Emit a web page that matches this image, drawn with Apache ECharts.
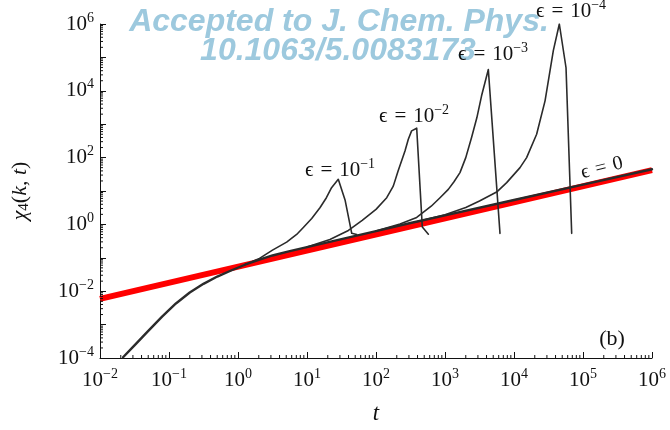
<!DOCTYPE html>
<html>
<head>
<meta charset="utf-8">
<script src="https://cdn.jsdelivr.net/npm/echarts@6/dist/echarts.min.js"></script>
<style>html,body{margin:0;padding:0;background:#fff}#c{width:670px;height:430px}</style>
</head>
<body>
<div id="c"></div>
<script>
// ---- data ----
const redT   = [0.01, 1e6];
const redChi = [0.0059, 42];

const baseT   = [0.0216, 0.0316, 0.0501, 0.0794, 0.126, 0.2, 0.316, 0.501, 0.794, 1.26, 2.0, 3.16, 5.62, 10, 31.6, 100, 316, 1000, 1e4, 1e5, 1e6];
const baseChi = [1.05e-4, 2.4e-4, 6.5e-4, 1.74e-3, 4.3e-3, 9.1e-3, 0.0166, 0.0275, 0.0417, 0.062, 0.087, 0.1175, 0.158, 0.209, 0.363, 0.631, 1.10, 1.86, 5.37, 15.5, 44.7];

const e1T   = [1.26, 2.0, 3.16, 5.07, 7.08, 8.85, 11.7, 15.4, 19.1, 22.7, 28.4, 35.6, 44.5, 52.5];
const e1Chi = [0.062, 0.093, 0.17, 0.295, 0.50, 0.81, 1.51, 3.16, 6.3, 12.6, 22.4, 5.4, 0.54, 0.50];

const e2T   = [10, 21.5, 39.8, 63.1, 100, 143, 178, 209, 263, 294, 328, 389, 469, 574];
const e2Chi = [0.209, 0.355, 0.66, 1.32, 2.82, 6.3, 14, 40, 158, 355, 630, 760, 0.83, 0.51];

const e3T   = [100, 223, 389, 631, 847, 1117, 1350, 1648, 2000, 2427, 2900, 3388, 4246, 6266];
const e3Chi = [0.631, 1.02, 1.62, 3.5, 6.3, 11.2, 19, 35.5, 100, 400, 1580, 7080, 43600, 0.54];

const e4T   = [400, 1000, 2000, 3162, 5598, 7834, 12220, 15240, 21280, 28180, 37150, 45390, 56750, 68550];
const e4Chi = [1.22, 1.95, 3.2, 5.0, 9.3, 17.8, 50, 100, 500, 5000, 1.6e5, 1.0e6, 4.9e4, 0.54];

const xTickExps = [-2, -1, 0, 1, 2, 3, 4, 5, 6];
const yLabelExps = [-4, -2, 0, 2, 4, 6];

// minor tick positions (2..9 per decade)
const minorX = [];
for (let d = -2; d < 6; d++) for (let m = 2; m <= 9; m++) minorX.push([m * Math.pow(10, d)]);
const minorY = [];
for (let d = -4; d < 6; d++) for (let m = 2; m <= 9; m++) minorY.push([m * Math.pow(10, d)]);

function zip(a, b) { return a.map((v, i) => [v, b[i]]); }

const serif = '"Liberation Serif", "DejaVu Serif", serif';
const sup = n => String(n).replace('-', '\u2212');

function fmtExp(v, allowed) {
  const e = Math.round(Math.log10(v));
  if (allowed && allowed.indexOf(e) < 0) return '';
  return '{b|10}{e|' + sup(e) + '}';
}

const richLab = {
  b: { fontFamily: serif, fontSize: 21, color: '#111' },
  e: { fontFamily: serif, fontSize: 14, color: '#111', padding: [0, 0, 12, 0] }
};

const epsRich = {
  a: { fontFamily: serif, fontSize: 21, fill: '#111' },
  e: { fontFamily: serif, fontSize: 14, fill: '#111', padding: [0, 0, 11, 0] }
};
const epsText = n => '{a|\u03f5\u2004=\u200410}{e|\u2212' + n + '}';

const chart = echarts.init(document.getElementById('c'));
const lineColor = '#2b2b2b';

function curve(t, c, w) {
  return { type: 'line', data: zip(t, c), showSymbol: false, smooth: false,
           lineStyle: { color: lineColor, width: w, join: 'round', cap: 'round' }, z: 3 };
}

chart.setOption({
  animation: false,
  backgroundColor: '#fff',
  grid: { left: 100, right: 18, top: 24, bottom: 56, containLabel: false },
  xAxis: {
    type: 'log', logBase: 10, min: 0.01, max: 1e6, splitNumber: 8,
    axisLine: { lineStyle: { color: '#111', width: 1 } },
    axisTick: { inside: true, length: 6, lineStyle: { color: '#111' } },
    splitLine: { show: false },
    axisLabel: { margin: 9, formatter: v => fmtExp(v, xTickExps), rich: richLab },
    name: 't', nameLocation: 'middle', nameGap: 44,
    nameTextStyle: { fontFamily: serif, fontStyle: 'italic', fontSize: 23, color: '#111' }
  },
  yAxis: {
    type: 'log', logBase: 10, min: 1e-4, max: 1e6, splitNumber: 10,
    axisLine: { show: true, lineStyle: { color: '#111', width: 1 } },
    axisTick: { show: true, inside: true, length: 6, lineStyle: { color: '#111' } },
    splitLine: { show: false },
    axisLabel: { margin: 6, formatter: v => fmtExp(v, yLabelExps), rich: richLab },
    name: '{i|\u03c7}{s|4}{n|(}{i|k}{n|, }{i|t}{n|)}',
    nameLocation: 'middle', nameGap: 68, nameRotate: 90,
    nameTextStyle: {
      rich: {
        i: { fontFamily: serif, fontStyle: 'italic', fontSize: 22, color: '#111' },
        n: { fontFamily: serif, fontSize: 22, color: '#111' },
        s: { fontFamily: serif, fontSize: 15, color: '#111', padding: [8, 0, 0, 0] }
      }
    }
  },
  series: [
    { type: 'line', data: zip(redT, redChi), showSymbol: false, lineStyle: { color: '#ff0000', width: 6 }, z: 2 },
    curve(baseT, baseChi, 2.4),
    curve(e1T, e1Chi, 1.6),
    curve(e2T, e2Chi, 1.6),
    curve(e3T, e3Chi, 1.6),
    curve(e4T, e4Chi, 1.6),
    {
      type: 'custom', data: minorX, clip: false, silent: true, z: 5,
      renderItem: (params, api) => {
        const p = api.coord([api.value(0), 1e-4]);
        return { type: 'line', shape: { x1: p[0], y1: p[1], x2: p[0], y2: p[1] - 3 }, style: { stroke: '#111', lineWidth: 1 } };
      }
    },
    {
      type: 'custom', data: minorY.map(v => [0.01, v[0]]), clip: false, silent: true, z: 5,
      renderItem: (params, api) => {
        const p = api.coord([0.01, api.value(1)]);
        return { type: 'line', shape: { x1: p[0], y1: p[1], x2: p[0] + 3, y2: p[1] }, style: { stroke: '#111', lineWidth: 1 } };
      }
    }
  ],
  graphic: [
    { type: 'text', z: 10, position: [339, 22],
      style: { text: 'Accepted to J. Chem. Phys.', x: 0, y: 0, align: 'center', verticalAlign: 'middle',
        font: 'italic bold 32px "Liberation Sans", Arial, sans-serif', fill: '#9dc9de' } },
    { type: 'text', z: 10, position: [338, 51],
      style: { text: '10.1063/5.0083173', x: 0, y: 0, align: 'center', verticalAlign: 'middle',
        font: 'italic bold 32px "Liberation Sans", Arial, sans-serif', fill: '#9dc9de' } },
    { type: 'text', z: 20, position: [340, 170],
      style: { text: epsText(1), align: 'center', verticalAlign: 'middle', rich: epsRich } },
    { type: 'text', z: 20, position: [414, 116],
      style: { text: epsText(2), align: 'center', verticalAlign: 'middle', rich: epsRich } },
    { type: 'text', z: 20, position: [493, 54],
      style: { text: epsText(3), align: 'center', verticalAlign: 'middle', rich: epsRich } },
    { type: 'text', z: 20, position: [571, 11],
      style: { text: epsText(4), align: 'center', verticalAlign: 'middle', rich: epsRich } },
    { type: 'text', z: 20, position: [602, 168], rotation: 14 * Math.PI / 180,
      style: { text: '\u03f5\u2004=\u20040', align: 'center', verticalAlign: 'middle', font: '20px ' + serif, fill: '#111' } },
    { type: 'text', z: 20, position: [612, 339],
      style: { text: '(b)', align: 'center', verticalAlign: 'middle', font: '22px ' + serif, fill: '#111' } }
  ]
});
</script>
</body>
</html>
